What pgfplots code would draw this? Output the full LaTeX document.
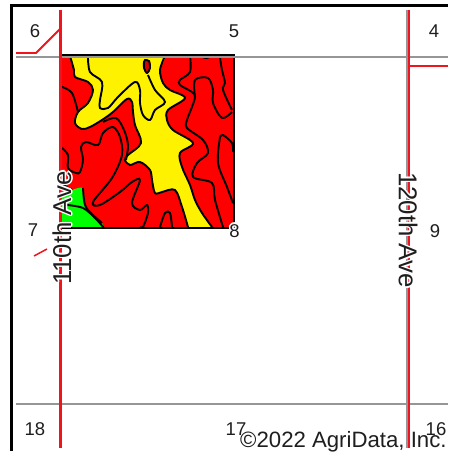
\documentclass[border=0pt]{standalone}
\usepackage{fontspec}
\setmainfont{Liberation Sans}
\usepackage{pgfplots}
\pgfplotsset{compat=1.18}
\definecolor{road}{RGB}{240,20,30}
\definecolor{sect}{RGB}{150,150,150}
\definecolor{lab}{RGB}{30,30,30}
% text with a white outline: x, y, rotate, font size, text
\newcommand{\halo}[5]{%
  \node[white,rotate=#3,inner sep=0pt,xshift=-1.5pt,font=\fontsize{#4}{#4}\selectfont] at (axis cs:#1,#2) {#5};
  \node[white,rotate=#3,inner sep=0pt,xshift=1.5pt,font=\fontsize{#4}{#4}\selectfont] at (axis cs:#1,#2) {#5};
  \node[white,rotate=#3,inner sep=0pt,yshift=-1.5pt,font=\fontsize{#4}{#4}\selectfont] at (axis cs:#1,#2) {#5};
  \node[white,rotate=#3,inner sep=0pt,yshift=1.5pt,font=\fontsize{#4}{#4}\selectfont] at (axis cs:#1,#2) {#5};
  \node[white,rotate=#3,inner sep=0pt,xshift=1pt,yshift=1pt,font=\fontsize{#4}{#4}\selectfont] at (axis cs:#1,#2) {#5};
  \node[white,rotate=#3,inner sep=0pt,xshift=-1pt,yshift=1pt,font=\fontsize{#4}{#4}\selectfont] at (axis cs:#1,#2) {#5};
  \node[white,rotate=#3,inner sep=0pt,xshift=1pt,yshift=-1pt,font=\fontsize{#4}{#4}\selectfont] at (axis cs:#1,#2) {#5};
  \node[white,rotate=#3,inner sep=0pt,xshift=-1pt,yshift=-1pt,font=\fontsize{#4}{#4}\selectfont] at (axis cs:#1,#2) {#5};
  \node[lab,rotate=#3,inner sep=0pt,font=\fontsize{#4}{#4}\selectfont] at (axis cs:#1,#2) {#5};
}
\tikzset{contour/.style={black,line width=1.9pt,smooth,tension=0.55,no markers}}
\begin{document}
\begin{tikzpicture}
\begin{axis}[
    scale only axis,
    width=448pt, height=452pt,
    xmin=0, xmax=448,
    ymin=0, ymax=452,
    y dir=reverse,
    axis lines=none,
    clip=true,
]
% soil map base
\addplot[fill=red,draw=none] coordinates {(60,55)(234,55)(234,228)(60,228)} --cycle;
% yellow
\addplot[fill=yellow,draw=none,smooth,tension=0.55] coordinates {
  (70,48)(70,58)(74,70)(75,77)(88,82)(93,90)(88,103)(78,112)(75,123)(82,129)(90,127)(102,120)
  (113,112)(127,99)(132,102)(133,112)(135,125)(141,143)(128,155)(125,160)(130,165)(140,162)
  (150,170)(152,180)(155,193)(162,192)(175,190)(182,207)(188,227)(188,236)(212,236)(212,227)
  (202,213)(195,200)(190,185)(182,167)(180,153)(193,143)(173,130)(167,120)(168,110)(185,98)
  (170,90)(163,83)(160,70)(165,58)(165,48)} --cycle;
% green
\addplot[fill=green,draw=none,smooth,tension=0.4] coordinates {
  (62,236)(62,195)(72,190)(83,188)(85,205)(92,214)(102,223)(107,236)} --cycle;
% trim overshoot outside the field
\addplot[fill=white,draw=none] coordinates {(40,40)(250,40)(250,55)(40,55)} --cycle;
\addplot[fill=white,draw=none] coordinates {(40,228)(250,228)(250,245)(40,245)} --cycle;
% contours
\addplot[contour] coordinates {(70,56)(74,70)(75,77)(88,82)(93,90)(88,103)(78,112)(75,123)(82,129)(90,127)(102,120)(113,112)(127,99)(132,102)(133,112)(135,125)(141,143)(128,155)(125,160)(130,165)(140,162)(150,170)(152,180)(155,193)(162,192)(175,190)(182,207)(188,227)};
\addplot[contour] coordinates {(212,227)(202,213)(195,200)(190,185)(182,167)(180,153)(193,143)(173,130)(167,120)(168,110)(185,98)(170,90)(163,83)(160,70)(165,56)};
\addplot[contour] coordinates {(88,56)(90,72)(102,82)(100,100)(100,108)(108,108)(118,97)(135,82)(140,90)(140,103)(143,115)(150,120)(155,110)(165,102)(155,90)(148,75)};
\addplot[contour,fill=red!85!black] coordinates {(145,60)(149,61)(150,68)(147,73)(144,68)(144,62)} --cycle;
\addplot[contour] coordinates {(190,56)(190,72)(180,80)(180,85)(192,92)(195,97)(192,107)(187,120)(187,128)(203,140)(208,153)(197,163)(193,177)(212,183)(215,200)(223,227)};
\addplot[contour] coordinates {(195,97)(195,80)(208,78)(213,90)(213,103)(222,118)(232,112)};
\addplot[contour] coordinates {(220,58)(222,70)(225,83)(223,90)(232,110)};
\addplot[contour] coordinates {(220,137)(223,135)(232,143)(233,152)};
\addplot[contour] coordinates {(220,137)(218,163)(227,187)(233,203)};
\addplot[contour] coordinates {(200,56)(206,58)(212,56)};
\addplot[contour] coordinates {(140,227)(143,227)(148,213)(147,205)(140,210)(132,203)(140,180)(132,182)(120,192)(100,205)(93,202)(112,178)(122,155)(120,137)(113,127)(103,133)(98,145)(86,142)(81,147)(83,160)(80,172)(76,173)(68,168)(68,155)(61,147)};
\addplot[contour] coordinates {(160,227)(165,213)(170,213)(172,227)};
\addplot[contour] coordinates {(62,87)(72,93)(78,112)};
\addplot[contour] coordinates {(103,122)(116,118)(124,130)(128,145)(126,160)};
\addplot[contour] coordinates {(63,185)(72,190)};
\addplot[contour] coordinates {(67,205)(83,208)(95,218)(104,228)};
\addplot[contour] coordinates {(83,188)(85,205)(92,214)(102,223)};
% field outline
\addplot[black,line width=2pt] coordinates {(60,55)(234,55)(234,228)(62,228)};
% section lines
\addplot[sect,line width=2.2pt] coordinates {(16,57)(448,57)};
\addplot[sect,line width=2.2pt] coordinates {(16,404)(448,404)};
\addplot[sect,line width=2.2pt] coordinates {(407,10)(407,448)};
% roads
\addplot[road,line width=2.3pt] coordinates {(60.5,10)(60.5,448)};
\addplot[road,line width=2.3pt] coordinates {(409,10)(409,448)};
\addplot[road,line width=2.2pt] coordinates {(409,66)(448,66)};
\addplot[road,line width=1.8pt] coordinates {(16,53)(36,53)(60,29)};
\addplot[road,line width=1.5pt] coordinates {(34,256)(47,249)};
% map frame
\addplot[black,line width=2.6pt] coordinates {(11.5,451)(11.5,5.5)(448,5.5)};
% section numbers
\node[lab,font=\fontsize{18.5}{19}\selectfont] at (axis cs:35,31) {6};
\node[lab,font=\fontsize{18.5}{19}\selectfont] at (axis cs:234,31) {5};
\node[lab,font=\fontsize{18.5}{19}\selectfont] at (axis cs:434,31) {4};
\node[lab,font=\fontsize{18.5}{19}\selectfont] at (axis cs:33,230) {7};
\node[lab,font=\fontsize{18.5}{19}\selectfont] at (axis cs:435,231) {9};
\node[lab,font=\fontsize{18.5}{19}\selectfont] at (axis cs:35,429) {18};
\node[lab,font=\fontsize{18.5}{19}\selectfont] at (axis cs:236,429) {17};
\node[lab,font=\fontsize{18.5}{19}\selectfont] at (axis cs:436,429) {16};
\halo{234.5}{231}{0}{18.5}{8}
% road names and credit
\halo{62}{228}{90}{25.8}{110th Ave}
\halo{408}{230}{-90}{25.8}{120th Ave}
\node[lab,inner sep=0pt,anchor=base west,font=\fontsize{22.2}{24}\selectfont] at (axis cs:240,447) {©2022 AgriData, Inc.};
\end{axis}
\pgfresetboundingbox
\useasboundingbox (0,0) rectangle (448pt,452pt);
\end{tikzpicture}
\end{document}
